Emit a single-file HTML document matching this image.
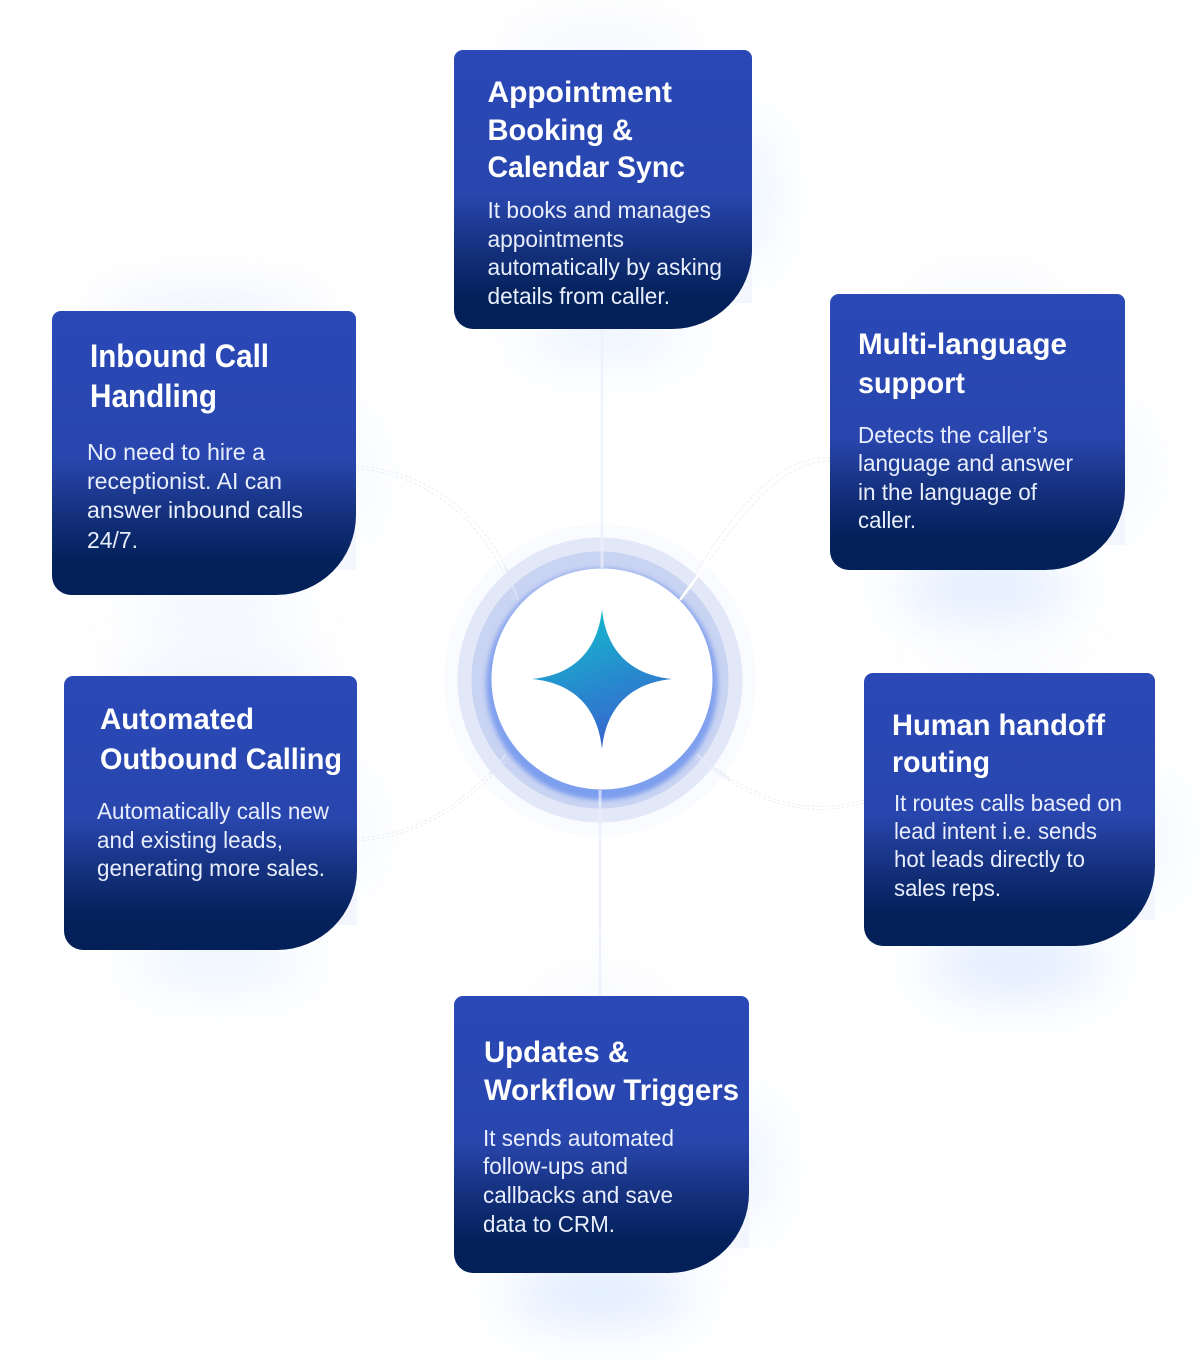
<!DOCTYPE html>
<html>
<head>
<meta charset="utf-8">
<style>
html,body{margin:0;padding:0;background:#fff;width:1200px;height:1360px;overflow:hidden}
svg{display:block}
.t{font-family:"Liberation Sans",sans-serif;font-weight:700;font-size:30px;fill:#fff}
.b{font-family:"Liberation Sans",sans-serif;font-weight:400;font-size:23px;fill:#e8eefc}
.l{fill:none;stroke:#e6e8ee;stroke-width:.7;stroke-dasharray:3 2}
</style>
</head>
<body>
<svg width="1200" height="1360" viewBox="0 0 1200 1360" xmlns="http://www.w3.org/2000/svg">
<defs>
<linearGradient id="g" x1="0" y1="0" x2="0" y2="1">
<stop offset="0" stop-color="#2a49b7"/>
<stop offset="0.52" stop-color="#2946ae"/>
<stop offset="0.72" stop-color="#14307c"/>
<stop offset="0.88" stop-color="#03215b"/>
<stop offset="1" stop-color="#032058"/>
</linearGradient>
<linearGradient id="s" x1="0.3" y1="0" x2="0.65" y2="1">
<stop offset="0" stop-color="#12bccc"/>
<stop offset="1" stop-color="#3a5fd0"/>
</linearGradient>
<linearGradient id="rg" x1="0" y1="0" x2="0" y2="1">
<stop offset="0" stop-color="#8ba6ee"/>
<stop offset="1" stop-color="#7b9eee"/>
</linearGradient>
<filter id="bl" x="-80%" y="-80%" width="260%" height="260%"><feGaussianBlur stdDeviation="28"/></filter>
<filter id="bs" x="-20%" y="-20%" width="140%" height="140%"><feGaussianBlur stdDeviation="2.5"/></filter>
</defs>

<!-- bottom/right glows: light blue -->
<g filter="url(#bl)" fill="#bcd6ff" opacity="0.55">
<ellipse cx="605" cy="336" rx="85" ry="14"/>
<rect x="735" y="130" width="25" height="130"/>
<ellipse cx="985" cy="588" rx="90" ry="26"/>
<rect x="1112" y="420" width="15" height="100"/>
<ellipse cx="1015" cy="964" rx="90" ry="28"/>
<rect x="1140" y="790" width="18" height="100"/>
<ellipse cx="600" cy="1292" rx="95" ry="28"/>
<rect x="735" y="1110" width="25" height="110"/>
<ellipse cx="220" cy="962" rx="90" ry="14"/>
<ellipse cx="215" cy="605" rx="85" ry="10"/>
<rect x="345" y="420" width="12" height="110"/>
<rect x="345" y="780" width="12" height="100"/>
</g>
<!-- top glows -->
<g filter="url(#bl)" fill="#c4d2f6" opacity="0.5">
<ellipse cx="600" cy="50" rx="95" ry="10"/>
<ellipse cx="210" cy="314" rx="115" ry="14"/>
<ellipse cx="220" cy="678" rx="110" ry="14"/>
<ellipse cx="985" cy="296" rx="80" ry="6"/>
<ellipse cx="1010" cy="675" rx="80" ry="5"/>
<ellipse cx="600" cy="998" rx="80" ry="5"/>
</g>
<!-- faint corner tints -->
<g fill="#f4f6fe">
<rect x="690" y="265" width="62" height="38"/>
<rect x="295" y="530" width="61" height="40"/>
<rect x="1065" y="505" width="60" height="40"/>
<rect x="1095" y="885" width="60" height="35"/>
<rect x="295" y="890" width="62" height="35"/>
<rect x="690" y="1210" width="59" height="38"/>
</g>

<!-- center rings -->
<circle cx="600" cy="680" r="156" fill="#fafbff"/>
<circle cx="600" cy="680" r="142.5" fill="#e3e8f9"/>
<circle cx="600" cy="680" r="128.5" fill="#c9d3f2"/>
<circle cx="602" cy="684" r="116" fill="url(#rg)" filter="url(#bs)"/>
<circle cx="602" cy="679" r="110.5" fill="#fff"/>

<!-- connectors -->
<g>
<path d="M602 330V568" stroke="#eef4ff" stroke-width="3" fill="none" opacity=".6"/>
<path d="M602 330V568" stroke="#e6ecf8" stroke-width=".7" fill="none"/>
<path d="M600 790V996" stroke="#eef4ff" stroke-width="3" fill="none" opacity=".6"/>
<path d="M600 790V996" stroke="#dde6f8" stroke-width=".7" fill="none"/>
<path class="l" d="M356 466C430 470 495 520 518 600"/>
<path class="l" d="M356 469C430 474 490 525 514 600"/>
<path d="M505 566L518 600" stroke="#dbe8fb" stroke-width="2" fill="none" opacity=".7"/>
<path class="l" d="M830 458C780 455 735 505 682 596"/>
<path class="l" d="M830 461C785 460 740 510 685 598"/>
<path d="M708 562L680 600" stroke="#fff" stroke-width="2.5" fill="none"/>
<path class="l" d="M357 838C410 835 460 810 505 755"/>
<path class="l" d="M357 841C410 838 462 812 508 758"/>
<path d="M490 775L506 754" stroke="#dbe8fb" stroke-width="2" fill="none" opacity=".7"/>
<path class="l" d="M864 800C810 815 760 805 697 754"/>
<path class="l" d="M864 803C810 818 760 808 695 757"/>
<path d="M697 755L730 780" stroke="#e4edfb" stroke-width="2" fill="none" opacity=".7"/>
</g>

<!-- star -->
<path d="M602 609C606 650 630 675 672 679C630 683 606 708 602 749C598 708 574 683 532 679C574 675 598 650 602 609Z" fill="url(#s)"/>

<!-- cards -->
<path fill="url(#g)" d="M463 50H744A8 8 0 0 1 752 58V249A80 80 0 0 1 672 329H473A19 19 0 0 1 454 310V59A9 9 0 0 1 463 50Z"/>
<path fill="url(#g)" d="M61 311H348A8 8 0 0 1 356 319V515A80 80 0 0 1 276 595H71A19 19 0 0 1 52 576V320A9 9 0 0 1 61 311Z"/>
<path fill="url(#g)" d="M839 294H1117A8 8 0 0 1 1125 302V490A80 80 0 0 1 1045 570H849A19 19 0 0 1 830 551V303A9 9 0 0 1 839 294Z"/>
<path fill="url(#g)" d="M873 673H1147A8 8 0 0 1 1155 681V866A80 80 0 0 1 1075 946H883A19 19 0 0 1 864 927V682A9 9 0 0 1 873 673Z"/>
<path fill="url(#g)" d="M73 676H349A8 8 0 0 1 357 684V870A80 80 0 0 1 277 950H83A19 19 0 0 1 64 931V685A9 9 0 0 1 73 676Z"/>
<path fill="url(#g)" d="M463 996H741A8 8 0 0 1 749 1004V1193A80 80 0 0 1 669 1273H473A19 19 0 0 1 454 1254V1005A9 9 0 0 1 463 996Z"/>

<!-- card 1 -->
<text class="t" x="487.5" y="102" textLength="184.5" lengthAdjust="spacingAndGlyphs">Appointment</text>
<text class="t" x="487.5" y="140" textLength="145.5" lengthAdjust="spacingAndGlyphs">Booking &amp;</text>
<text class="t" x="487.5" y="177" textLength="197.5" lengthAdjust="spacingAndGlyphs">Calendar Sync</text>
<text class="b" x="487.5" y="218" textLength="223.5" lengthAdjust="spacingAndGlyphs">It books and manages</text>
<text class="b" x="487.5" y="247" textLength="136.5" lengthAdjust="spacingAndGlyphs">appointments</text>
<text class="b" x="487.5" y="275" textLength="234.5" lengthAdjust="spacingAndGlyphs">automatically by asking</text>
<text class="b" x="487.5" y="304" textLength="182.5" lengthAdjust="spacingAndGlyphs">details from caller.</text>

<!-- card 2 -->
<text class="t" x="90" y="367" textLength="179" lengthAdjust="spacingAndGlyphs" style="font-size:32px">Inbound Call</text>
<text class="t" x="90" y="407" textLength="127" lengthAdjust="spacingAndGlyphs" style="font-size:32px">Handling</text>
<text class="b" x="87" y="460" textLength="178" lengthAdjust="spacingAndGlyphs">No need to hire a</text>
<text class="b" x="87" y="489" textLength="195" lengthAdjust="spacingAndGlyphs">receptionist. AI can</text>
<text class="b" x="87" y="518" textLength="216" lengthAdjust="spacingAndGlyphs">answer inbound calls</text>
<text class="b" x="87" y="548" textLength="51" lengthAdjust="spacingAndGlyphs">24/7.</text>

<!-- card 3 -->
<text class="t" x="858" y="354" textLength="209" lengthAdjust="spacingAndGlyphs">Multi-language</text>
<text class="t" x="858" y="393" textLength="107" lengthAdjust="spacingAndGlyphs">support</text>
<text class="b" x="858" y="443" textLength="190" lengthAdjust="spacingAndGlyphs">Detects the caller’s</text>
<text class="b" x="858" y="471" textLength="215" lengthAdjust="spacingAndGlyphs">language and answer</text>
<text class="b" x="858" y="500" textLength="179" lengthAdjust="spacingAndGlyphs">in the language of</text>
<text class="b" x="858" y="528" textLength="58" lengthAdjust="spacingAndGlyphs">caller.</text>

<!-- card 4 -->
<text class="t" x="892" y="735" textLength="213" lengthAdjust="spacingAndGlyphs">Human handoff</text>
<text class="t" x="892" y="772" textLength="98" lengthAdjust="spacingAndGlyphs">routing</text>
<text class="b" x="894" y="811" textLength="228" lengthAdjust="spacingAndGlyphs">It routes calls based on</text>
<text class="b" x="894" y="839" textLength="203" lengthAdjust="spacingAndGlyphs">lead intent i.e. sends</text>
<text class="b" x="894" y="867" textLength="191" lengthAdjust="spacingAndGlyphs">hot leads directly to</text>
<text class="b" x="894" y="896" textLength="107" lengthAdjust="spacingAndGlyphs">sales reps.</text>

<!-- card 5 -->
<text class="t" x="100" y="729" textLength="154" lengthAdjust="spacingAndGlyphs">Automated</text>
<text class="t" x="100" y="769" textLength="242" lengthAdjust="spacingAndGlyphs">Outbound Calling</text>
<text class="b" x="97" y="819" textLength="232" lengthAdjust="spacingAndGlyphs">Automatically calls new</text>
<text class="b" x="97" y="848" textLength="186" lengthAdjust="spacingAndGlyphs">and existing leads,</text>
<text class="b" x="97" y="876" textLength="228" lengthAdjust="spacingAndGlyphs">generating more sales.</text>

<!-- card 6 -->
<text class="t" x="484" y="1062" textLength="145" lengthAdjust="spacingAndGlyphs">Updates &amp;</text>
<text class="t" x="484" y="1100" textLength="255" lengthAdjust="spacingAndGlyphs">Workflow Triggers</text>
<text class="b" x="483" y="1146" textLength="191" lengthAdjust="spacingAndGlyphs">It sends automated</text>
<text class="b" x="483" y="1174" textLength="145" lengthAdjust="spacingAndGlyphs">follow-ups and</text>
<text class="b" x="483" y="1203" textLength="190" lengthAdjust="spacingAndGlyphs">callbacks and save</text>
<text class="b" x="483" y="1232" textLength="132" lengthAdjust="spacingAndGlyphs">data to CRM.</text>
</svg>
</body>
</html>
